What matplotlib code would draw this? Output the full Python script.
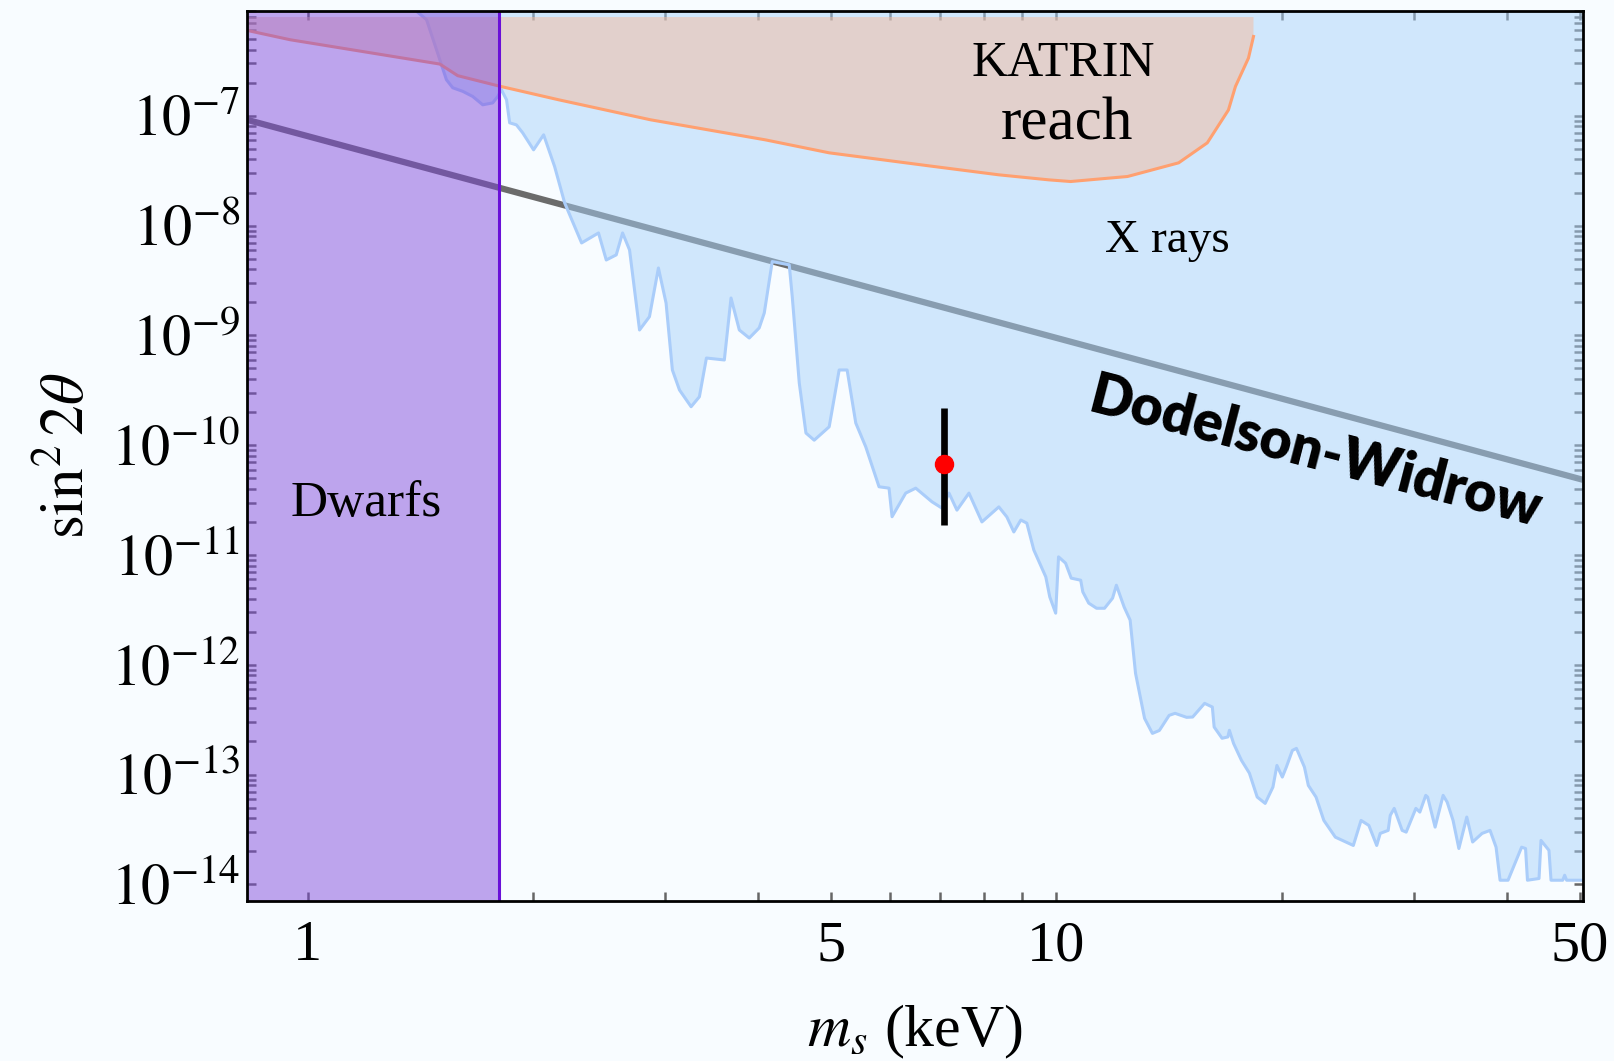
import matplotlib
matplotlib.use('Agg')
import matplotlib.pyplot as plt
import numpy as np

plt.rcParams.update({
    'font.family': 'Liberation Serif',
    'mathtext.fontset': 'stix',
})

# ------------------------------------------------------------
# data (m_s in keV, y = sin^2 2theta)
# ------------------------------------------------------------
xray_m = [1.383, 1.391, 1.442, 1.487, 1.533, 1.563, 1.612, 1.662, 1.714, 1.767,
          1.795, 1.815, 1.844, 1.862, 1.901, 1.938, 2.004, 2.067, 2.138, 2.205,
          2.323, 2.447, 2.506, 2.584, 2.635, 2.692, 2.776, 2.862, 2.942, 3.012,
          3.071, 3.139, 3.253, 3.337, 3.410, 3.603, 3.678, 3.773, 3.890, 4.011,
          4.074, 4.175, 4.399, 4.440, 4.537, 4.631, 4.750, 4.974, 5.129, 5.256,
          5.398, 5.566, 5.798, 5.979, 6.035, 6.294, 6.491, 6.823, 7.036, 7.190,
          7.368, 7.645, 7.956, 8.381, 8.590, 8.776, 8.967, 9.134, 9.333, 9.683,
          9.802, 9.982, 10.07, 10.29, 10.47, 10.78, 10.85, 11.05, 11.32, 11.60,
          11.89, 12.03, 12.32, 12.55, 12.76, 13.12, 13.44, 13.73, 14.15, 14.41,
          14.93, 15.21, 15.78, 16.16, 16.25, 16.65, 16.95, 17.03, 17.25, 17.67,
          18.11, 18.55, 19.01, 19.47, 19.71, 20.04, 20.29, 20.67, 20.93, 21.45,
          21.71, 22.23, 22.77, 23.59, 24.93, 25.53, 26.15, 26.79, 27.08, 27.75,
          27.93, 28.27, 28.97, 29.33, 30.22, 30.59, 31.15, 31.33, 32.06, 32.86,
          33.27, 33.88, 34.49, 35.34, 35.98, 37.04, 37.96, 38.67, 39.15, 40.12,
          41.83, 42.34, 42.59, 44.13, 44.40, 45.50, 45.79, 47.47, 47.75, 48.04,
          51.0]
xray_y = [1.14e-6, 9.25e-7, 7.50e-7, 4.00e-7, 2.13e-7, 1.80e-7, 1.67e-7, 1.50e-7, 1.26e-7, 1.31e-7,
          1.50e-7, 1.73e-7, 1.40e-7, 8.63e-8, 8.27e-8, 7.00e-8, 4.90e-8, 6.71e-8, 3.45e-8, 1.61e-8,
          6.95e-9, 8.57e-9, 4.86e-9, 5.41e-9, 8.57e-9, 6.00e-9, 1.12e-9, 1.48e-9, 4.11e-9, 1.97e-9,
          4.84e-10, 3.18e-10, 2.24e-10, 2.76e-10, 6.22e-10, 5.97e-10, 2.19e-9, 1.12e-9, 9.46e-10, 1.17e-9,
          1.60e-9, 4.70e-9, 4.39e-9, 2.25e-9, 3.68e-10, 1.29e-10, 1.11e-10, 1.47e-10, 4.84e-10, 4.84e-10,
          1.59e-10, 9.66e-11, 4.18e-11, 4.06e-11, 2.23e-11, 3.66e-11, 4.06e-11, 3.05e-11, 2.67e-11, 3.66e-11,
          2.56e-11, 3.66e-11, 2.00e-11, 2.74e-11, 2.22e-11, 1.62e-11, 2.08e-11, 1.95e-11, 1.11e-11, 6.31e-12,
          4.15e-12, 2.95e-12, 9.61e-12, 8.42e-12, 6.15e-12, 5.89e-12, 4.61e-12, 3.64e-12, 3.27e-12, 3.27e-12,
          4.04e-12, 5.30e-12, 3.36e-12, 2.55e-12, 8.36e-13, 3.25e-13, 2.37e-13, 2.52e-13, 3.46e-13, 3.61e-13,
          3.32e-13, 3.34e-13, 4.45e-13, 4.12e-13, 2.71e-13, 2.14e-13, 2.20e-13, 2.53e-13, 1.92e-13, 1.35e-13,
          1.03e-13, 6.24e-14, 5.46e-14, 7.69e-14, 1.21e-13, 9.48e-14, 1.17e-13, 1.66e-13, 1.73e-13, 1.17e-13,
          7.96e-14, 6.23e-14, 3.82e-14, 2.69e-14, 2.26e-14, 3.82e-14, 3.44e-14, 2.26e-14, 2.91e-14, 3.10e-14,
          4.25e-14, 4.92e-14, 3.10e-14, 2.99e-14, 4.92e-14, 4.55e-14, 6.46e-14, 6.24e-14, 3.32e-14, 6.46e-14,
          5.61e-14, 3.82e-14, 2.12e-14, 4.10e-14, 2.43e-14, 2.91e-14, 3.10e-14, 2.18e-14, 1.09e-14, 1.09e-14,
          2.18e-14, 2.12e-14, 1.09e-14, 1.13e-14, 2.51e-14, 2.04e-14, 1.09e-14, 1.09e-14, 1.21e-14, 1.09e-14,
          1.09e-14]

katrin_m = [0.830, 0.948, 1.502, 1.587, 1.800, 2.164, 2.871, 4.087, 4.974, 6.761,
            8.381, 9.772, 10.45, 12.45, 14.57, 15.91, 16.98, 17.35, 18.06, 18.34]
katrin_y = [6.00e-7, 4.93e-7, 2.96e-7, 2.32e-7, 1.87e-7, 1.40e-7, 9.20e-8, 6.04e-8, 4.60e-8, 3.50e-8,
            2.90e-8, 2.61e-8, 2.52e-8, 2.80e-8, 3.73e-8, 5.67e-8, 1.13e-7, 1.85e-7, 3.36e-7, 5.28e-7]
katrin_top = 7.94e-7

dw_m = [0.83, 50.5]
dw_y = [9.2e-8, 4.84e-11]

dwarfs_m = 1.803

line_m = 7.09
line_y = 6.68e-11
line_lo = 1.87e-11
line_hi = 2.16e-10

x_major = [1, 5, 10, 50]
x_minor = [2, 3, 4, 6, 7, 8, 9, 20, 30, 40]
y_exps = list(range(-14, -6))

# ------------------------------------------------------------
fig = plt.figure(figsize=(16.15, 10.61), dpi=100, facecolor='#f8fcff')
ax = fig.add_axes([0.1529, 0.1508, 0.8272, 0.8388])
ax.set_facecolor('#f8fcff')
ax.set_xscale('log')
ax.set_yscale('log')
ax.set_xlim(0.83, 50.5)
ax.set_ylim(7.05e-15, 8.9e-7)

# Dodelson-Widrow line (below the shaded regions)
ax.plot(dw_m, dw_y, color='#6b6b6b', lw=4.5, solid_capstyle='butt', zorder=1)

# X-ray exclusion
xm = np.array(xray_m)
ax.fill_between(xm, xray_y, 1e-5, color='#a7d2f9', alpha=0.49, lw=0, zorder=2)
ax.plot(xm, xray_y, color='#aacdfa', lw=2.2, zorder=2.1)

# KATRIN reach
kx = katrin_m + [katrin_m[-1], katrin_m[0]]
ky = katrin_y + [katrin_top, katrin_top]
ax.fill(kx, ky, color='#f4bb9e', alpha=0.5, lw=0, zorder=3)
ax.plot(katrin_m, katrin_y, color='#ffa070', lw=2.2, zorder=3.1)

# Dwarfs
ax.axvspan(0.5, dwarfs_m, color='#7d44da', alpha=0.48, lw=0, zorder=4)
ax.axvline(dwarfs_m, color='#6a10d8', lw=2.2, zorder=4.1)

# 3.5 keV line
ax.errorbar([line_m], [line_y], yerr=[[line_y - line_lo], [line_hi - line_y]],
            fmt='o', color='red', ms=13, ecolor='black', elinewidth=4.8, capsize=0, zorder=5)

# texts
ax.text(10.22, 2.32e-7, 'KATRIN', fontsize=36, ha='center', va='baseline', zorder=6)
ax.text(10.34, 6.04e-8, 'reach', fontsize=44, ha='center', va='baseline', zorder=6)
ax.text(14.09, 5.75e-9, 'X rays', fontsize=34, ha='center', va='baseline', zorder=6)
ax.text(1.199, 2.26e-11, 'Dwarfs', fontsize=37, ha='center', va='baseline', zorder=6)
ax.text(22.2, 8.6e-11, 'Dodelson-Widrow', family='Lato', fontweight='heavy', fontsize=40,
        rotation=-14.5, rotation_mode='anchor', ha='center', va='center', zorder=6)

# ticks
ax.set_xticks(x_major)
ax.set_xticklabels([str(v) for v in x_major])
ax.set_xticks(x_minor, minor=True)
ax.set_xticklabels([], minor=True)
ax.set_yticks([10.0 ** e for e in y_exps])
ax.set_yticklabels([r'$10^{%d}$' % e for e in y_exps])
ax.set_yticks([k * 10.0 ** e for e in range(-14, -6) for k in range(2, 10)], minor=True)
ax.set_yticklabels([], minor=True)
ax.tick_params(which='both', direction='in', length=6.5, width=1.8, color='#666666',
               top=True, right=True, labelsize=42)
ax.tick_params(axis='x', which='major', pad=14)
ax.tick_params(axis='y', which='major', pad=5)
for s in ax.spines.values():
    s.set_linewidth(2)
    s.set_zorder(7)

ax.set_xlabel(r'$m_s$ (keV)', fontsize=43, labelpad=22)
ax.set_ylabel(r'$\sin^2 2\theta$', fontsize=44, labelpad=10)

fig.savefig('out.png', dpi=100, facecolor=fig.get_facecolor())
